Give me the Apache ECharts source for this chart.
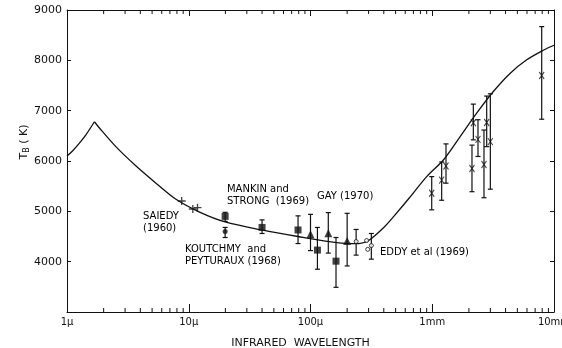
<!DOCTYPE html>
<html><head><meta charset="utf-8">
<script src="https://cdn.jsdelivr.net/npm/echarts@6/dist/echarts.min.js"></script>
<style>html,body{margin:0;padding:0;background:#fff}#c{width:562px;height:348px}</style>
</head><body><div id="c"></div>
<script>
// x tick labels (wavelength in microns)
const xTickValues = [1, 10, 100, 1000, 10000];
const xTickLabels = ['1\u03bc', '10\u03bc', '100\u03bc', '1mm', '10mm'];
const yTickValues = [4000, 5000, 6000, 7000, 8000, 9000];
const minorMultipliers = [2, 3, 4, 5, 6, 7, 8, 9];
const decades = [1, 10, 100, 1000];

// model curve: rising branch up to the peak, then the rest
const curveLeftWl = [1, 1.11, 1.26, 1.43, 1.68];
const curveLeftT  = [6100, 6200, 6350, 6520, 6780];
const curveRightWl = [1.68, 1.84, 2.53, 3.69, 5.38, 7.86, 12.4, 19.9, 39.7, 79, 164, 250, 300, 400, 479, 650, 900, 1233, 1690, 2317, 3175, 4352, 5970, 8170, 10000];
const curveRightT  = [6780, 6660, 6280, 5900, 5560, 5240, 4980, 4790, 4630, 4500, 4380, 4360, 4420, 4680, 4890, 5270, 5690, 6020, 6480, 6950, 7380, 7740, 8010, 8200, 8300];

// Saiedy (1960) crosses
const saiedyWl = [8.75, 10.8, 11.8];
const saiedyT  = [5205, 5046, 5072];

// squares
const sqWl   = [19.9, 40, 79, 114, 162];
const sqT    = [4900, 4680, 4630, 4230, 4010];
const sqLow  = [4800, 4560, 4360, 3850, 3490];
const sqHigh = [4980, 4830, 4910, 4680, 4480];

// Koutchmy & Peyturaux dot
const kpWl = [19.9];
const kpT = [4600];
const kpLow = [4480];
const kpHigh = [4680];

// triangles
const triWl   = [100, 140, 200];
const triT    = [4545, 4565, 4410];
const triLow  = [4220, 4170, 3915];
const triHigh = [4940, 4975, 4960];

// Eddy et al open circles
const eddyWl   = [237, 289, 295, 316];
const eddyT    = [4400, 4420, 4245, 4320];
const eddyLow  = [4130, null, null, 4050];
const eddyHigh = [4640, null, null, 4560];

// millimetre crosses
const mmWl   = [990, 1195, 1297, 2120, 2175, 2375, 2660, 2800, 3000, 7925];
const mmT    = [5360, 5620, 5900, 5850, 6760, 6430, 5930, 6765, 6385, 7700];
const mmLow  = [5030, 5220, 5560, 5390, 6420, 6090, 5270, 6285, 5440, 6830];
const mmHigh = [5690, 5980, 6340, 6315, 7130, 6820, 6615, 7290, 7335, 8670];

// annotations
const annText = ['SAIEDY\n(1960)', 'MANKIN and\nSTRONG  (1969)', 'KOUTCHMY  and\nPEYTURAUX (1968)', 'GAY (1970)', 'EDDY et al (1969)'];
const annWl = [4.21, 20.6, 9.31, 113, 372];
const annT = [5016, 5563, 4360, 5424, 4297];

const INK = '#111';
const FONT = 'DejaVu Sans';

function pairs(xs, ys) { return xs.map((x, i) => [x, ys[i]]); }
function errData(xs, lo, hi) {
  const out = [];
  xs.forEach((x, i) => { if (lo[i] != null) out.push([x, lo[i], hi[i]]); });
  return out;
}
const allErr = [].concat(
  errData(sqWl, sqLow, sqHigh),
  errData(kpWl, kpLow, kpHigh),
  errData(triWl, triLow, triHigh),
  errData(eddyWl, eddyLow, eddyHigh),
  errData(mmWl, mmLow, mmHigh)
);
const minorVals = [];
decades.forEach(d => minorMultipliers.forEach(m => minorVals.push([d * m, 3000])));

const chart = echarts.init(document.getElementById('c'), null, {renderer: 'canvas'});
const axisCommon = {
  axisLine: {show: true, lineStyle: {color: INK, width: 1}},
  splitLine: {show: false},
};
const curveStyle = {color: INK, width: 1.3};
chart.setOption({
  animation: false,
  backgroundColor: '#fff',
  grid: {left: 67, right: 8, top: 10, bottom: 36, containLabel: false, outerBoundsMode: 'none'},
  xAxis: [{
    type: 'log', logBase: 10, min: 1, max: 10000, position: 'bottom',
    ...axisCommon,
    axisTick: {show: true, inside: true, length: 8, lineStyle: {color: INK}},
    axisLabel: {color: INK, fontFamily: FONT, fontSize: 10, margin: 5,
      formatter: v => { const i = xTickValues.indexOf(Math.round(v)); return i >= 0 ? xTickLabels[i] : ''; }},
    name: 'INFRARED  WAVELENGTH', nameLocation: 'middle', nameGap: 26, nameMoveOverlap: false,
    nameTextStyle: {color: INK, fontFamily: FONT, fontSize: 11, padding: [0, 20, 0, 0]}
  }, {
    type: 'log', logBase: 10, min: 1, max: 10000, position: 'top',
    ...axisCommon,
    axisTick: {show: true, inside: true, length: 6, lineStyle: {color: INK}},
    axisLabel: {show: false}
  }],
  yAxis: [{
    type: 'value', min: 3000, max: 9000, interval: 1000, position: 'left',
    ...axisCommon,
    axisTick: {show: true, inside: true, length: 4, lineStyle: {color: INK}},
    axisLabel: {color: INK, fontFamily: FONT, fontSize: 11, margin: 5,
      formatter: v => yTickValues.indexOf(v) >= 0 ? String(v) : ''},
    name: '{m|T}{s|B}{m| ( K)}', nameLocation: 'middle', nameGap: 36, nameRotate: 90, nameMoveOverlap: false,
    nameTextStyle: {color: INK, fontFamily: FONT, fontSize: 11, padding: [0, 0, 0, 38],
      rich: {m: {fontFamily: FONT, fontSize: 11, color: INK}, s: {fontFamily: FONT, fontSize: 8, color: INK, padding: [5, 0, 0, 0]}}}
  }, {
    type: 'value', min: 3000, max: 9000, interval: 1000, position: 'right',
    ...axisCommon,
    axisTick: {show: true, inside: true, length: 4, lineStyle: {color: INK}},
    axisLabel: {show: false}
  }],
  series: [
    {
      type: 'line', data: pairs(curveLeftWl, curveLeftT), showSymbol: false, symbol: 'none',
      lineStyle: curveStyle, smooth: 0.3, z: 2
    },
    {
      type: 'line', data: pairs(curveRightWl, curveRightT), showSymbol: false, symbol: 'none',
      lineStyle: curveStyle, smooth: 0.3, z: 2
    },
    {
      type: 'custom', data: minorVals, silent: true, z: 1, clip: false,
      renderItem: (params, api) => {
        const b = api.coord([api.value(0), 3000]);
        const t = api.coord([api.value(0), 9000]);
        return {type: 'group', children: [
          {type: 'line', shape: {x1: b[0], y1: b[1], x2: b[0], y2: b[1] - 4}, style: {stroke: INK, lineWidth: 1}},
          {type: 'line', shape: {x1: t[0], y1: t[1], x2: t[0], y2: t[1] + 4}, style: {stroke: INK, lineWidth: 1}}
        ]};
      }
    },
    {
      type: 'custom', data: allErr, silent: true, z: 3,
      renderItem: (params, api) => {
        const lo = api.coord([api.value(0), api.value(1)]);
        const hi = api.coord([api.value(0), api.value(2)]);
        const w = 2.5;
        return {type: 'group', children: [
          {type: 'line', shape: {x1: lo[0], y1: lo[1], x2: hi[0], y2: hi[1]}, style: {stroke: INK, lineWidth: 1.2}},
          {type: 'line', shape: {x1: lo[0] - w, y1: lo[1], x2: lo[0] + w, y2: lo[1]}, style: {stroke: INK, lineWidth: 1.2}},
          {type: 'line', shape: {x1: hi[0] - w, y1: hi[1], x2: hi[0] + w, y2: hi[1]}, style: {stroke: INK, lineWidth: 1.2}}
        ]};
      }
    },
    {
      type: 'scatter', data: pairs(saiedyWl, saiedyT), symbol: 'path://M0,5L10,5M5,0L5,10', symbolSize: 8, z: 4,
      itemStyle: {color: 'none', borderColor: INK, borderWidth: 1.3}
    },
    {
      type: 'scatter', data: pairs(sqWl, sqT), symbol: 'rect', symbolSize: 7, z: 4,
      itemStyle: {color: INK}
    },
    {
      type: 'scatter', data: pairs(kpWl, kpT), symbol: 'circle', symbolSize: 5, z: 4,
      itemStyle: {color: INK}
    },
    {
      type: 'scatter', data: pairs(triWl, triT), symbol: 'triangle', symbolSize: 8, z: 4,
      itemStyle: {color: INK}
    },
    {
      type: 'scatter', data: pairs(eddyWl, eddyT), symbol: 'circle', symbolSize: 4, z: 4,
      itemStyle: {color: '#fff', borderColor: INK, borderWidth: 1}
    },
    {
      type: 'scatter', data: pairs(mmWl, mmT), symbol: 'path://M0,0L10,10M10,0L0,10', symbolSize: [5, 7], z: 4,
      itemStyle: {color: 'none', borderColor: INK, borderWidth: 1.1}
    },
    {
      type: 'scatter', symbolSize: 0, silent: true, z: 5,
      data: annText.map((t, i) => ({value: [annWl[i], annT[i]], name: t})),
      itemStyle: {opacity: 1},
      label: {show: true, position: [0, 0], align: 'left', verticalAlign: 'top',
        formatter: p => p.name, color: '#000', opacity: 1, fontFamily: FONT, fontSize: 10, lineHeight: 12}
    }
  ]
});
</script>
</body></html>
